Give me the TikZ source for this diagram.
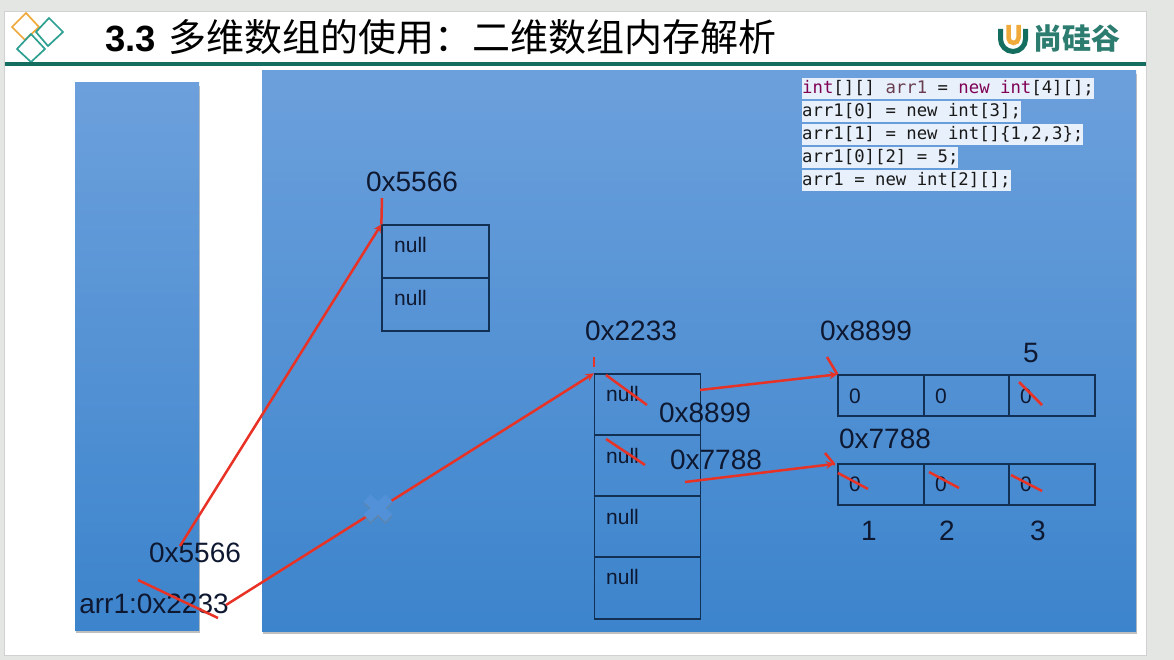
\documentclass[tikz,border=0pt]{standalone}
\usepackage{fontspec}
\setmainfont{Liberation Sans}
\newfontfamily\cjk{Noto Sans CJK SC}
\newfontfamily\codefont{DejaVu Sans Mono}
\usetikzlibrary{shadows}
\definecolor{pagegray}{RGB}{228,230,227}
\definecolor{headgreen}{RGB}{20,110,95}
\definecolor{logoteal}{RGB}{45,160,145}
\definecolor{logoorange}{RGB}{240,170,60}
\definecolor{paneltop}{RGB}{108,160,220}
\definecolor{panelbottom}{RGB}{60,132,204}
\definecolor{inkblue}{RGB}{14,24,48}
\definecolor{celledge}{RGB}{18,48,84}
\definecolor{arrowred}{RGB}{232,50,38}
\definecolor{crossblue}{RGB}{82,144,216}
\definecolor{codepale}{RGB}{232,241,251}
\definecolor{codekey}{RGB}{127,0,85}
\definecolor{codevar}{RGB}{106,62,80}
\tikzset{
  panel/.style={
    top color=paneltop,
    bottom color=panelbottom,
    draw=none,
    drop shadow={shadow xshift=1pt, shadow yshift=-3pt, opacity=0.5}
  },
  celltall/.style={draw=celledge, line width=1.3pt, minimum width=106pt, inner sep=0pt},
  cellwide/.style={draw=celledge, line width=1.3pt, minimum width=86pt, minimum height=41pt, inner sep=0pt},
  addr/.style={font=\fontsize{28}{28}\selectfont, text=inkblue, inner sep=0pt},
  celltext/.style={font=\fontsize{21}{21}\selectfont, text=inkblue, inner sep=0pt, anchor=west},
  codeline/.style={font=\fontsize{17.3}{17.3}\codefont, text=black!90, fill=codepale, inner sep=0pt,
    anchor=west, text height=15pt, text depth=6pt},
  redarrow/.style={->, >=stealth, arrowred, line width=2.5pt},
  strike/.style={arrowred, line width=2.5pt},
  logoline/.style={line width=1.7pt, line join=miter}
}
\begin{document}
\begin{tikzpicture}[x=1pt,y=-1pt]
  \useasboundingbox (0,0) rectangle (1174,660);
  \fill[pagegray] (0,0) rectangle (1174,660);
  \draw[fill=white, draw=black!18, line width=1pt] (4,12) rectangle (1146,655);
  % Header
  \draw[logoline, logoorange] (26,13) -- (39,27) -- (25,40) -- (12,27) -- cycle;
  \draw[logoline, logoteal] (49,18) -- (63,32) -- (48,46) -- (36,32) -- cycle;
  \draw[logoline, logoteal] (31,34) -- (45,49) -- (31,62) -- (17,49) -- cycle;
  \fill[headgreen] (5,62.5) rectangle (1146,66);
  \node[anchor=west, inner sep=0pt, text=black] (title) at (105,37)
    {\fontsize{36.5}{38}\selectfont\textbf{3.3} \hspace{2pt}{\cjk\fontsize{38}{38}\selectfont 多维数组的使用：二维数组内存解析}};
  % Logo
  \draw[headgreen, line width=5pt] (1000.5,29) -- (1000.5,39) arc[start angle=180, end angle=0, radius=12.5] -- (1025.5,29);
  \draw[logoorange, line width=4.5pt] (1008.5,25) -- (1008.5,38) arc[start angle=180, end angle=0, radius=5] -- (1018.5,25);
  \node[anchor=west, inner sep=0pt, text=headgreen!90!white] (logotext) at (1033,38)
    {\cjk\bfseries\fontsize{29}{29}\selectfont 尚硅谷};
  % Stack and heap
  \node[panel, minimum width=124pt, minimum height=547pt, inner sep=0pt] (stack) at (137,356.5) {};
  \node[panel, minimum width=874pt, minimum height=560pt, inner sep=0pt] (heap) at (699,351) {};
  % Code
  \node[codeline] (code1) at (802,89) {\textcolor{codekey}{int}[][] \textcolor{codevar}{arr1} = \textcolor{codekey}{new} \textcolor{codekey}{int}[4][];};
  \node[codeline] (code2) at (802,112) {arr1[0] = new int[3];};
  \node[codeline] (code3) at (802,135) {arr1[1] = new int[]\{1,2,3\};};
  \node[codeline] (code4) at (802,158) {arr1[0][2] = 5;};
  \node[codeline] (code5) at (802,181) {arr1 = new int[2][];};
  % First outer array
  \node[celltall, minimum width=107pt, minimum height=53pt] (oldA) at (435.5,251.5) {};
  \node[celltall, minimum width=107pt, minimum height=53pt] (oldB) at (435.5,304.5) {};
  \node[celltext] (oldAtext) at (394,245) {null};
  \node[celltext] (oldBtext) at (394,298) {null};
  % Second outer array
  \node[celltall, minimum height=61pt] (outerA) at (647.5,404.5) {};
  \node[celltall, minimum height=61pt] (outerB) at (647.5,465.5) {};
  \node[celltall, minimum height=61pt] (outerC) at (647.5,526.5) {};
  \node[celltall, minimum height=62pt] (outerD) at (647.5,588) {};
  \node[celltext] (outerAtext) at (606,394) {null};
  \node[celltext] (outerBtext) at (606,456) {null};
  \node[celltext] (outerCtext) at (606,517) {null};
  \node[celltext] (outerDtext) at (606,577) {null};
  % Inner arrays
  \node[cellwide] (rowA1) at (881,395.5) {};
  \node[cellwide] (rowA2) at (966.5,395.5) {};
  \node[cellwide] (rowA3) at (1052,395.5) {};
  \node[cellwide] (rowB1) at (881,484.5) {};
  \node[cellwide] (rowB2) at (966.5,484.5) {};
  \node[cellwide] (rowB3) at (1052,484.5) {};
  \node[celltext] (rowA1text) at (849,396) {0};
  \node[celltext] (rowA2text) at (935,396) {0};
  \node[celltext] (rowA3text) at (1020,396) {0};
  \node[celltext] (rowB1text) at (849,484) {0};
  \node[celltext] (rowB2text) at (935,484) {0};
  \node[celltext] (rowB3text) at (1020,484) {0};
  % Addresses
  \node[addr] (addrOld) at (412,182) {0x5566};
  \node[addr] (addrOuter) at (631,331) {0x2233};
  \node[addr] (addrRowA) at (866,331) {0x8899};
  \node[addr] (addrRowB) at (885,439) {0x7788};
  \node[addr] (valA) at (705,413) {0x8899};
  \node[addr] (valB) at (716,460) {0x7788};
  \node[addr] (five) at (1031,353) {5};
  \node[addr] (one) at (869,531) {1};
  \node[addr] (two) at (947,531) {2};
  \node[addr] (three) at (1038,531) {3};
  \node[addr] (stackOld) at (195,553) {0x5566};
  \node[addr] (stackArr) at (154,604) {arr1:0x2233};
  % Reference arrows
  \coordinate (fromOld) at (180,546);
  \coordinate (fromArr) at (226,605);
  \coordinate (fromA) at (700,390);
  \coordinate (fromB) at (685,482);
  \coordinate (toB) at (834,464);
  \draw[redarrow] (fromOld) -- (oldA.north west);
  \draw[redarrow] (fromArr) -- (outerA.north west);
  \draw[redarrow] (fromA) -- (rowA1.north west);
  \draw[redarrow] (fromB) -- (toB);
  % Cross on the old reference
  \draw[black!50, opacity=0.4, line width=10pt] (367,500) -- (389,520);
  \draw[black!50, opacity=0.4, line width=10pt] (389,500) -- (367,520);
  \draw[crossblue, line width=10pt] (367,498) -- (389,518);
  \draw[crossblue, line width=10pt] (389,498) -- (367,518);
  % Strikes
  \draw[strike] (382,198) -- (oldA.north west);
  \draw[strike] (594,357) -- (594,367);
  \draw[strike] (827,357) -- (rowA1.north west);
  \draw[strike] (825,453) -- (toB) -- (835,464);
  \draw[strike] (138,580) -- (218,618);
  \draw[strike] (606,375) -- (647,405);
  \draw[strike] (606,439) -- (645,465);
  \draw[strike] (1019,382) -- (1042,405);
  \draw[strike] (838,473) -- (868,489);
  \draw[strike] (929,472) -- (959,488);
  \draw[strike] (1011,475) -- (1042,491);
\end{tikzpicture}
\end{document}
